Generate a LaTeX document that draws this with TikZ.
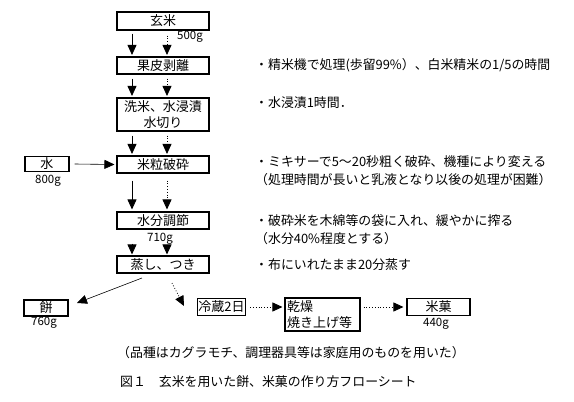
\documentclass[tikz,border=0pt]{standalone}
\usepackage{fontspec}
\setmainfont{Noto Sans CJK JP}
\usetikzlibrary{arrows.meta,calc}
\tikzset{
  fbox/.style={draw, line width=1.1pt, inner sep=1pt, font=\fontsize{13}{15.5}\selectfont, align=center},
  cbox/.style={fbox, minimum width=92pt, minimum height=17pt},
  note/.style={anchor=west, inner sep=0pt, font=\fontsize{12.9}{15}\selectfont},
  wlab/.style={inner sep=0pt, font=\fontsize{11.5}{13}\selectfont},
  sarr/.style={line width=0.8pt, -{Triangle[width=9pt,length=10pt]}},
  darr/.style={line width=0.8pt, dotted, -{Triangle[width=9pt,length=10pt]}},
  sarrthin/.style={line width=0.6pt, -{Triangle[width=9pt,length=10pt]}},
}
\begin{document}
\begin{tikzpicture}[x=1pt,y=-1pt]
\useasboundingbox (0,0) rectangle (574,402);
\fill[white] (0,0) rectangle (574,402);
% main column
\node[cbox, minimum height=18pt] (genmai) at (163,21) {玄米};
\node[cbox] (kahi) at (163,65.5) {果皮剥離};
\node[cbox, minimum height=33pt] (sen) at (163,114.5) {洗米、水浸漬\\水切り};
\node[cbox] (hasai) at (163,164.5) {米粒破砕};
\node[cbox] (chosetsu) at (163,220.5) {水分調節};
\node[cbox] (mushi) at (163,264.5) {蒸し、つき};
% side boxes
\node[fbox, minimum width=44pt, minimum height=15pt] (mizu) at (47,164) {水};
\node[fbox, minimum width=44pt, minimum height=16pt] (mochi) at (46,308) {餅};
\node[fbox, minimum width=45pt, minimum height=17pt] (reizo) at (221.5,307) {冷蔵2日};
\node[fbox, minimum width=75pt, minimum height=33pt, align=left, text width=71pt] (kanso) at (322.5,314.5) {乾燥\\焼き上げ等};
\node[fbox, minimum width=63pt, minimum height=17pt] (beika) at (438.5,307) {米菓};
% weights
\node[wlab] (w500) at (190,37) {500g};
\node[wlab] (w800) at (48,181) {800g};
\node[wlab] (w710) at (160,239) {710g};
\node[wlab] (w760) at (44,323) {760g};
\node[wlab] (w440) at (436,324) {440g};
% notes
\node[note] (n1) at (255,65) {・精米機で処理(歩留99\%）、白米精米の1/5の時間};
\node[note] (n2) at (255,103) {・水浸漬1時間．};
\node[note] (n3) at (255,162) {・ミキサーで5〜20秒粗く破砕、機種により変える};
\node[note] (n4) at (255,180) {（処理時間が長いと乳液となり以後の処理が困難）};
\node[note] (n5) at (255,221) {・破砕米を木綿等の袋に入れ、緩やかに搾る};
\node[note] (n6) at (255,239) {（水分40\%程度とする）};
\node[note] (n7) at (255,265) {・布にいれたまま20分蒸す};
\node[note] (cap) at (117,353) {（品種はカグラモチ、調理器具等は家庭用のものを用いた）};
\node[note] (title) at (120,382) {図１　玄米を用いた餅、米菓の作り方フローシート};
% column coordinates
\coordinate (sx) at (132,0);
\coordinate (dx) at (167,0);
\draw[sarr] ([yshift=-3pt]genmai.south -| sx) -- ([yshift=1.5pt]kahi.north -| sx);
\draw[darr] ([yshift=-5pt]genmai.south -| dx) -- ([yshift=1.5pt]kahi.north -| dx);
\draw[sarr] ([yshift=-4pt]kahi.south -| sx) -- ([yshift=1.5pt]sen.north -| sx);
\draw[darr] ([yshift=-4pt]kahi.south -| dx) -- ([yshift=1.5pt]sen.north -| dx);
\draw[sarr] ([yshift=-4pt]sen.south -| sx) -- ([yshift=1.5pt]hasai.north -| sx);
\draw[darr] ([yshift=-4pt]sen.south -| dx) -- ([yshift=1.5pt]hasai.north -| dx);
\draw[sarr] ([yshift=-7pt]hasai.south -| sx) -- ([yshift=2pt]chosetsu.north -| sx);
\draw[darr] ([yshift=-7pt]hasai.south -| dx) -- ([yshift=2pt]chosetsu.north -| dx);
\draw[sarr] ([yshift=-14pt]chosetsu.south -| sx) -- ([yshift=1pt]mushi.north -| sx);
\draw[darr] ([yshift=-15pt]chosetsu.south -| dx) -- ([yshift=1pt]mushi.north -| dx);
\draw[sarrthin] ([xshift=5pt]mizu.east) -- ([xshift=-2pt]hasai.west);
% bottom branches
\coordinate (s1) at (142,278);
\coordinate (s2) at (77,303);
\coordinate (d1) at (172,283);
\coordinate (d2) at (184,306);
\draw[sarrthin] (s1) -- (s2);
\draw[darr] (d1) -- (d2);
\draw[darr] ([xshift=4pt]reizo.east) -- ([xshift=-2pt]kanso.west |- reizo.east);
\draw[darr] ([xshift=3pt]kanso.east |- beika.west) -- ([xshift=-3pt]beika.west);
\end{tikzpicture}
\end{document}
